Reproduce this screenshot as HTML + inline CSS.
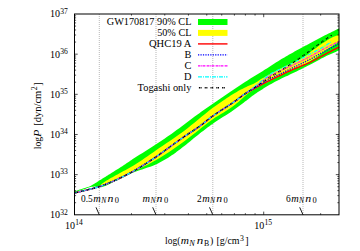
<!DOCTYPE html>
<html><head><meta charset="utf-8"><title>EOS</title>
<style>html,body{margin:0;padding:0;background:#fff;}body{width:360px;height:251px;overflow:hidden;position:relative;font-family:"Liberation Serif",serif;}</style>
</head><body>
<svg width="360" height="251" viewBox="0 0 360 251" style="position:absolute;left:0;top:0">
<rect width="360" height="251" fill="#fff"/>
<line x1="99.30" y1="14.00" x2="99.30" y2="214.80" stroke="#999" stroke-width="0.7" stroke-dasharray="1 1"/>
<line x1="156.00" y1="14.00" x2="156.00" y2="214.80" stroke="#999" stroke-width="0.7" stroke-dasharray="1 1"/>
<line x1="212.80" y1="14.00" x2="212.80" y2="214.80" stroke="#999" stroke-width="0.7" stroke-dasharray="1 1"/>
<line x1="303.00" y1="14.00" x2="303.00" y2="214.80" stroke="#999" stroke-width="0.7" stroke-dasharray="1 1"/>
<path d="M74.50 191.30 L75.81 190.88 L77.12 190.45 L78.44 190.03 L79.75 189.61 L81.06 189.19 L82.38 188.76 L83.69 188.33 L85.00 187.90 L85.62 187.70 L86.25 187.50 L86.88 187.31 L87.50 187.11 L88.12 186.91 L88.75 186.69 L89.38 186.46 L90.00 186.20 L90.62 185.91 L91.25 185.59 L91.88 185.23 L92.50 184.86 L93.12 184.47 L93.75 184.08 L94.38 183.68 L95.00 183.30 L95.50 183.00 L96.00 182.69 L96.50 182.38 L97.00 182.06 L97.50 181.75 L98.00 181.43 L98.50 181.11 L99.00 180.80 L99.88 180.25 L100.75 179.70 L101.62 179.15 L102.50 178.60 L103.38 178.05 L104.25 177.50 L105.12 176.95 L106.00 176.40 L106.50 176.09 L107.00 175.77 L107.50 175.46 L108.00 175.15 L108.50 174.84 L109.00 174.53 L109.50 174.21 L110.00 173.90 L111.75 172.80 L113.50 171.70 L115.25 170.60 L117.00 169.49 L118.75 168.38 L120.50 167.26 L122.25 166.14 L124.00 165.00 L125.25 164.18 L126.50 163.34 L127.75 162.50 L129.00 161.65 L130.25 160.80 L131.50 159.96 L132.75 159.12 L134.00 158.30 L136.71 156.55 L139.43 154.84 L142.14 153.15 L144.85 151.47 L147.56 149.79 L150.27 148.09 L152.99 146.36 L155.70 144.60 L157.99 143.08 L160.27 141.55 L162.56 140.00 L164.85 138.43 L167.14 136.85 L169.43 135.25 L171.71 133.63 L174.00 132.00 L176.62 130.09 L179.25 128.15 L181.88 126.17 L184.50 124.18 L187.12 122.18 L189.75 120.19 L192.38 118.23 L195.00 116.30 L197.19 114.72 L199.38 113.14 L201.56 111.58 L203.75 110.03 L205.94 108.48 L208.12 106.95 L210.31 105.42 L212.50 103.90 L214.69 102.39 L216.88 100.88 L219.06 99.39 L221.25 97.90 L223.44 96.42 L225.62 94.95 L227.81 93.47 L230.00 92.00 L231.88 90.74 L233.75 89.47 L235.62 88.21 L237.50 86.94 L239.38 85.69 L241.25 84.45 L243.12 83.22 L245.00 82.00 L247.50 80.41 L250.00 78.84 L252.50 77.30 L255.00 75.77 L257.50 74.24 L260.00 72.71 L262.50 71.16 L265.00 69.60 L266.88 68.41 L268.75 67.20 L270.62 65.98 L272.50 64.76 L274.38 63.54 L276.25 62.34 L278.12 61.16 L280.00 60.00 L281.46 59.12 L282.93 58.25 L284.39 57.39 L285.85 56.54 L287.31 55.69 L288.77 54.86 L290.24 54.03 L291.70 53.20 L293.11 52.41 L294.52 51.62 L295.94 50.84 L297.35 50.06 L298.76 49.29 L300.18 48.52 L301.59 47.76 L303.00 47.00 L303.88 46.53 L304.75 46.07 L305.62 45.60 L306.50 45.14 L307.38 44.68 L308.25 44.22 L309.12 43.76 L310.00 43.30 L311.88 42.30 L313.75 41.29 L315.62 40.28 L317.50 39.27 L319.38 38.26 L321.25 37.26 L323.12 36.27 L325.00 35.30 L326.77 34.40 L328.55 33.51 L330.32 32.64 L332.10 31.77 L333.88 30.90 L335.65 30.04 L337.43 29.17 L339.20 28.30 L339.20 50.30 L337.43 51.09 L335.65 51.88 L333.88 52.65 L332.10 53.43 L330.32 54.22 L328.55 55.03 L326.77 55.85 L325.00 56.70 L323.12 57.64 L321.25 58.62 L319.38 59.63 L317.50 60.65 L315.62 61.68 L313.75 62.71 L311.88 63.72 L310.00 64.70 L307.75 65.85 L305.50 66.98 L303.25 68.10 L301.00 69.21 L298.75 70.31 L296.50 71.41 L294.25 72.50 L292.00 73.60 L289.88 74.62 L287.75 75.63 L285.62 76.62 L283.50 77.61 L281.38 78.61 L279.25 79.64 L277.12 80.70 L275.00 81.80 L273.75 82.47 L272.50 83.17 L271.25 83.88 L270.00 84.60 L268.75 85.34 L267.50 86.09 L266.25 86.84 L265.00 87.60 L263.75 88.36 L262.50 89.13 L261.25 89.91 L260.00 90.69 L258.75 91.49 L257.50 92.31 L256.25 93.14 L255.00 94.00 L253.75 94.89 L252.50 95.81 L251.25 96.76 L250.00 97.73 L248.75 98.70 L247.50 99.68 L246.25 100.65 L245.00 101.60 L243.62 102.64 L242.25 103.68 L240.88 104.73 L239.50 105.77 L238.12 106.80 L236.75 107.82 L235.38 108.82 L234.00 109.80 L231.31 111.64 L228.62 113.42 L225.94 115.14 L223.25 116.84 L220.56 118.55 L217.88 120.27 L215.19 122.05 L212.50 123.90 L210.94 125.01 L209.38 126.15 L207.81 127.31 L206.25 128.49 L204.69 129.68 L203.12 130.88 L201.56 132.09 L200.00 133.30 L198.00 134.88 L196.00 136.49 L194.00 138.12 L192.00 139.77 L190.00 141.41 L188.00 143.04 L186.00 144.64 L184.00 146.20 L182.25 147.55 L180.50 148.91 L178.75 150.25 L177.00 151.58 L175.25 152.88 L173.50 154.14 L171.75 155.35 L170.00 156.50 L168.21 157.63 L166.43 158.73 L164.64 159.80 L162.85 160.84 L161.06 161.84 L159.27 162.78 L157.49 163.67 L155.70 164.50 L152.99 165.64 L150.27 166.66 L147.56 167.60 L144.85 168.49 L142.14 169.38 L139.43 170.28 L136.71 171.25 L134.00 172.30 L131.62 173.32 L129.25 174.43 L126.88 175.59 L124.50 176.78 L122.12 177.98 L119.75 179.14 L117.38 180.26 L115.00 181.30 L113.00 182.20 L111.00 183.18 L109.00 184.18 L107.00 185.13 L105.00 185.99 L103.00 186.68 L101.00 187.13 L99.00 187.30 L98.50 187.27 L98.00 187.19 L97.50 187.08 L97.00 186.95 L96.50 186.82 L96.00 186.71 L95.50 186.63 L95.00 186.60 L94.50 186.61 L94.00 186.62 L93.50 186.65 L93.00 186.69 L92.50 186.74 L92.00 186.79 L91.50 186.84 L91.00 186.90 L90.25 187.03 L89.50 187.22 L88.75 187.46 L88.00 187.74 L87.25 188.04 L86.50 188.34 L85.75 188.63 L85.00 188.90 L83.69 189.33 L82.38 189.76 L81.06 190.18 L79.75 190.61 L78.44 191.03 L77.12 191.45 L75.81 191.88 L74.50 192.30 Z" fill="#00ff00"/>
<path d="M98.70 186.50 L99.36 185.97 L100.03 185.43 L100.69 184.88 L101.35 184.34 L102.01 183.80 L102.67 183.28 L103.34 182.78 L104.00 182.30 L104.75 181.79 L105.50 181.30 L106.25 180.83 L107.00 180.37 L107.75 179.92 L108.50 179.48 L109.25 179.04 L110.00 178.60 L111.25 177.87 L112.50 177.16 L113.75 176.45 L115.00 175.76 L116.25 175.07 L117.50 174.38 L118.75 173.69 L120.00 173.00 L121.75 172.04 L123.50 171.10 L125.25 170.17 L127.00 169.24 L128.75 168.29 L130.50 167.33 L132.25 166.33 L134.00 165.30 L136.71 163.61 L139.43 161.84 L142.14 160.01 L144.85 158.12 L147.56 156.21 L150.27 154.29 L152.99 152.38 L155.70 150.50 L159.24 148.08 L162.77 145.69 L166.31 143.30 L169.85 140.90 L173.39 138.47 L176.93 136.01 L180.46 133.49 L184.00 130.90 L187.56 128.18 L191.12 125.35 L194.69 122.45 L198.25 119.50 L201.81 116.55 L205.38 113.65 L208.94 110.82 L212.50 108.10 L213.94 107.04 L215.38 106.00 L216.81 104.97 L218.25 103.95 L219.69 102.95 L221.12 101.96 L222.56 100.97 L224.00 100.00 L225.25 99.16 L226.50 98.31 L227.75 97.48 L229.00 96.65 L230.25 95.83 L231.50 95.03 L232.75 94.26 L234.00 93.50 L235.38 92.69 L236.75 91.90 L238.12 91.12 L239.50 90.36 L240.88 89.62 L242.25 88.89 L243.62 88.19 L245.00 87.50 L246.25 86.91 L247.50 86.36 L248.75 85.83 L250.00 85.30 L251.25 84.77 L252.50 84.22 L253.75 83.64 L255.00 83.00 L255.88 82.50 L256.75 81.96 L257.62 81.38 L258.50 80.79 L259.38 80.19 L260.25 79.60 L261.12 79.03 L262.00 78.50 L263.00 77.94 L264.00 77.40 L265.00 76.87 L266.00 76.36 L267.00 75.86 L268.00 75.35 L269.00 74.83 L270.00 74.30 L271.25 73.61 L272.50 72.91 L273.75 72.19 L275.00 71.47 L276.25 70.75 L277.50 70.05 L278.75 69.36 L280.00 68.70 L281.50 67.94 L283.00 67.21 L284.50 66.50 L286.00 65.81 L287.50 65.12 L289.00 64.42 L290.50 63.72 L292.00 63.00 L293.38 62.34 L294.75 61.69 L296.12 61.03 L297.50 60.38 L298.88 59.70 L300.25 59.00 L301.62 58.27 L303.00 57.50 L303.62 57.13 L304.25 56.76 L304.88 56.37 L305.50 55.97 L306.12 55.55 L306.75 55.12 L307.38 54.67 L308.00 54.20 L308.38 53.90 L308.75 53.56 L309.12 53.22 L309.50 52.86 L309.88 52.50 L310.25 52.15 L310.62 51.81 L311.00 51.50 L311.62 51.02 L312.25 50.56 L312.88 50.13 L313.50 49.71 L314.12 49.29 L314.75 48.87 L315.38 48.44 L316.00 48.00 L316.50 47.63 L317.00 47.25 L317.50 46.87 L318.00 46.48 L318.50 46.10 L319.00 45.72 L319.50 45.35 L320.00 45.00 L320.62 44.57 L321.25 44.16 L321.88 43.76 L322.50 43.37 L323.12 42.97 L323.75 42.59 L324.38 42.19 L325.00 41.80 L325.75 41.31 L326.50 40.81 L327.25 40.31 L328.00 39.80 L328.75 39.31 L329.50 38.84 L330.25 38.40 L331.00 38.00 L332.02 37.50 L333.05 37.04 L334.07 36.61 L335.10 36.21 L336.12 35.81 L337.15 35.41 L338.18 35.01 L339.20 34.60 L339.20 41.80 L337.43 42.90 L335.65 43.98 L333.88 45.06 L332.10 46.14 L330.32 47.23 L328.55 48.35 L326.77 49.50 L325.00 50.70 L323.88 51.50 L322.75 52.35 L321.62 53.23 L320.50 54.13 L319.38 55.02 L318.25 55.89 L317.12 56.72 L316.00 57.50 L314.62 58.40 L313.25 59.27 L311.88 60.12 L310.50 60.94 L309.12 61.73 L307.75 62.51 L306.38 63.26 L305.00 64.00 L303.38 64.84 L301.75 65.65 L300.12 66.43 L298.50 67.19 L296.88 67.94 L295.25 68.69 L293.62 69.44 L292.00 70.20 L290.50 70.90 L289.00 71.60 L287.50 72.29 L286.00 72.98 L284.50 73.68 L283.00 74.37 L281.50 75.08 L280.00 75.80 L278.75 76.41 L277.50 77.02 L276.25 77.64 L275.00 78.26 L273.75 78.89 L272.50 79.52 L271.25 80.16 L270.00 80.80 L268.12 81.76 L266.25 82.72 L264.38 83.68 L262.50 84.66 L260.62 85.65 L258.75 86.67 L256.88 87.71 L255.00 88.80 L254.38 89.17 L253.75 89.55 L253.12 89.93 L252.50 90.32 L251.88 90.73 L251.25 91.14 L250.62 91.56 L250.00 92.00 L249.38 92.46 L248.75 92.93 L248.12 93.42 L247.50 93.93 L246.88 94.44 L246.25 94.96 L245.62 95.48 L245.00 96.00 L243.62 97.17 L242.25 98.40 L240.88 99.65 L239.50 100.91 L238.12 102.15 L236.75 103.36 L235.38 104.52 L234.00 105.60 L231.31 107.53 L228.62 109.33 L225.94 111.01 L223.25 112.64 L220.56 114.25 L217.88 115.89 L215.19 117.59 L212.50 119.40 L208.94 121.98 L205.38 124.70 L201.81 127.52 L198.25 130.39 L194.69 133.27 L191.12 136.11 L187.56 138.87 L184.00 141.50 L180.46 144.02 L176.93 146.53 L173.39 148.99 L169.85 151.41 L166.31 153.76 L162.77 156.04 L159.24 158.22 L155.70 160.30 L152.99 161.81 L150.27 163.25 L147.56 164.64 L144.85 165.99 L142.14 167.31 L139.43 168.63 L136.71 169.95 L134.00 171.30 L131.62 172.51 L129.25 173.75 L126.88 174.99 L124.50 176.22 L122.12 177.44 L119.75 178.61 L117.38 179.74 L115.00 180.80 L112.96 181.65 L110.92 182.47 L108.89 183.24 L106.85 184.00 L104.81 184.75 L102.78 185.49 L100.74 186.24 L98.70 187.00 Z" fill="#ffff00"/>
<path d="M74.50 193.00 L77.56 192.23 L80.62 191.49 L83.69 190.76 L86.75 190.03 L89.81 189.27 L92.88 188.48 L95.94 187.62 L99.00 186.70 L101.00 186.04 L103.00 185.34 L105.00 184.59 L107.00 183.80 L109.00 182.98 L111.00 182.14 L113.00 181.28 L115.00 180.40 L117.38 179.33 L119.75 178.22 L122.12 177.07 L124.50 175.88 L126.88 174.66 L129.25 173.40 L131.62 172.12 L134.00 170.80 L136.71 169.25 L139.43 167.64 L142.14 165.97 L144.85 164.26 L147.56 162.52 L150.27 160.73 L152.99 158.93 L155.70 157.10 L157.49 155.87 L159.27 154.61 L161.06 153.33 L162.85 152.02 L164.64 150.71 L166.43 149.40 L168.21 148.09 L170.00 146.80 L171.75 145.54 L173.50 144.28 L175.25 143.02 L177.00 141.76 L178.75 140.51 L180.50 139.26 L182.25 138.02 L184.00 136.80 L186.00 135.43 L188.00 134.10 L190.00 132.78 L192.00 131.47 L194.00 130.15 L196.00 128.80 L198.00 127.43 L200.00 126.00 L201.56 124.83 L203.12 123.61 L204.69 122.36 L206.25 121.10 L207.81 119.83 L209.38 118.58 L210.94 117.36 L212.50 116.20 L215.19 114.30 L217.88 112.48 L220.56 110.72 L223.25 108.99 L225.94 107.27 L228.62 105.53 L231.31 103.75 L234.00 101.90 L235.38 100.91 L236.75 99.87 L238.12 98.82 L239.50 97.76 L240.88 96.71 L242.25 95.69 L243.62 94.71 L245.00 93.80 L246.25 93.03 L247.50 92.29 L248.75 91.58 L250.00 90.89 L251.25 90.21 L252.50 89.54 L253.75 88.87 L255.00 88.20 L256.88 87.18 L258.75 86.17 L260.62 85.17 L262.50 84.17 L264.38 83.18 L266.25 82.21 L268.12 81.25 L270.00 80.30 L271.25 79.68 L272.50 79.07 L273.75 78.46 L275.00 77.87 L276.25 77.27 L277.50 76.68 L278.75 76.09 L280.00 75.50 L281.50 74.79 L283.00 74.08 L284.50 73.37 L286.00 72.66 L287.50 71.95 L289.00 71.26 L290.50 70.57 L292.00 69.90 L294.25 68.92 L296.50 67.99 L298.75 67.07 L301.00 66.16 L303.25 65.25 L305.50 64.31 L307.75 63.33 L310.00 62.30 L311.88 61.38 L313.75 60.42 L315.62 59.42 L317.50 58.39 L319.38 57.36 L321.25 56.32 L323.12 55.30 L325.00 54.30 L326.77 53.37 L328.55 52.46 L330.32 51.54 L332.10 50.63 L333.88 49.73 L335.65 48.82 L337.43 47.91 L339.20 47.00" fill="none" stroke="#ff0000" stroke-width="1.4"/>
<path d="M74.50 193.00 L77.56 192.23 L80.62 191.49 L83.69 190.76 L86.75 190.03 L89.81 189.27 L92.88 188.48 L95.94 187.62 L99.00 186.70 L101.00 186.04 L103.00 185.34 L105.00 184.59 L107.00 183.80 L109.00 182.98 L111.00 182.14 L113.00 181.28 L115.00 180.40 L117.38 179.33 L119.75 178.22 L122.12 177.07 L124.50 175.88 L126.88 174.66 L129.25 173.40 L131.62 172.12 L134.00 170.80 L136.71 169.25 L139.43 167.64 L142.14 165.97 L144.85 164.26 L147.56 162.52 L150.27 160.73 L152.99 158.93 L155.70 157.10 L157.49 155.87 L159.27 154.61 L161.06 153.33 L162.85 152.02 L164.64 150.71 L166.43 149.40 L168.21 148.09 L170.00 146.80 L171.75 145.54 L173.50 144.28 L175.25 143.02 L177.00 141.76 L178.75 140.51 L180.50 139.26 L182.25 138.02 L184.00 136.80 L186.00 135.43 L188.00 134.10 L190.00 132.78 L192.00 131.47 L194.00 130.15 L196.00 128.80 L198.00 127.43 L200.00 126.00 L201.56 124.83 L203.12 123.61 L204.69 122.36 L206.25 121.10 L207.81 119.83 L209.38 118.58 L210.94 117.36 L212.50 116.20 L215.19 114.30 L217.88 112.48 L220.56 110.72 L223.25 108.99 L225.94 107.27 L228.62 105.53 L231.31 103.75 L234.00 101.90 L235.38 100.91 L236.75 99.89 L238.12 98.85 L239.50 97.81 L240.88 96.77 L242.25 95.74 L243.62 94.75 L245.00 93.80 L246.25 92.97 L247.50 92.17 L248.75 91.38 L250.00 90.61 L251.25 89.86 L252.50 89.10 L253.75 88.35 L255.00 87.60 L256.88 86.46 L258.75 85.32 L260.62 84.18 L262.50 83.05 L264.38 81.94 L266.25 80.86 L268.12 79.81 L270.00 78.80 L271.25 78.16 L272.50 77.54 L273.75 76.94 L275.00 76.35 L276.25 75.76 L277.50 75.18 L278.75 74.60 L280.00 74.00 L281.50 73.28 L283.00 72.56 L284.50 71.83 L286.00 71.11 L287.50 70.39 L289.00 69.66 L290.50 68.93 L292.00 68.20 L294.25 67.10 L296.50 66.01 L298.75 64.92 L301.00 63.83 L303.25 62.72 L305.50 61.60 L307.75 60.46 L310.00 59.30 L311.88 58.30 L313.75 57.28 L315.62 56.24 L317.50 55.18 L319.38 54.12 L321.25 53.07 L323.12 52.03 L325.00 51.00 L326.77 50.05 L328.55 49.10 L330.32 48.16 L332.10 47.23 L333.88 46.30 L335.65 45.37 L337.43 44.44 L339.20 43.50" fill="none" stroke="#0000ff" stroke-width="1.4" stroke-dasharray="1.25 1.2"/>
<path d="M74.50 193.00 L77.56 192.23 L80.62 191.49 L83.69 190.76 L86.75 190.03 L89.81 189.27 L92.88 188.48 L95.94 187.62 L99.00 186.70 L101.00 186.04 L103.00 185.34 L105.00 184.59 L107.00 183.80 L109.00 182.98 L111.00 182.14 L113.00 181.28 L115.00 180.40 L117.38 179.33 L119.75 178.22 L122.12 177.07 L124.50 175.88 L126.88 174.66 L129.25 173.40 L131.62 172.12 L134.00 170.80 L136.71 169.25 L139.43 167.64 L142.14 165.97 L144.85 164.26 L147.56 162.52 L150.27 160.73 L152.99 158.93 L155.70 157.10 L157.49 155.87 L159.27 154.61 L161.06 153.33 L162.85 152.02 L164.64 150.71 L166.43 149.40 L168.21 148.09 L170.00 146.80 L171.75 145.54 L173.50 144.28 L175.25 143.02 L177.00 141.76 L178.75 140.51 L180.50 139.26 L182.25 138.02 L184.00 136.80 L186.00 135.43 L188.00 134.10 L190.00 132.78 L192.00 131.47 L194.00 130.15 L196.00 128.80 L198.00 127.43 L200.00 126.00 L201.56 124.83 L203.12 123.61 L204.69 122.36 L206.25 121.10 L207.81 119.83 L209.38 118.58 L210.94 117.36 L212.50 116.20 L215.19 114.30 L217.88 112.48 L220.56 110.72 L223.25 108.99 L225.94 107.27 L228.62 105.53 L231.31 103.75 L234.00 101.90 L235.38 100.92 L236.75 99.92 L238.12 98.90 L239.50 97.87 L240.88 96.84 L242.25 95.81 L243.62 94.80 L245.00 93.80 L246.25 92.91 L247.50 92.03 L248.75 91.16 L250.00 90.30 L251.25 89.43 L252.50 88.56 L253.75 87.69 L255.00 86.80 L256.88 85.42 L258.75 83.98 L260.62 82.50 L262.50 81.03 L264.38 79.60 L266.25 78.22 L268.12 76.95 L270.00 75.80 L271.25 75.11 L272.50 74.47 L273.75 73.86 L275.00 73.27 L276.25 72.70 L277.50 72.14 L278.75 71.58 L280.00 71.00 L281.50 70.30 L283.00 69.62 L284.50 68.94 L286.00 68.26 L287.50 67.58 L289.00 66.90 L290.50 66.21 L292.00 65.50 L294.25 64.42 L296.50 63.33 L298.75 62.22 L301.00 61.10 L303.25 59.97 L305.50 58.83 L307.75 57.67 L310.00 56.50 L311.88 55.50 L313.75 54.48 L315.62 53.44 L317.50 52.39 L319.38 51.34 L321.25 50.31 L323.12 49.29 L325.00 48.30 L326.77 47.39 L328.55 46.50 L330.32 45.62 L332.10 44.76 L333.88 43.89 L335.65 43.03 L337.43 42.17 L339.20 41.30" fill="none" stroke="#ff00ff" stroke-width="1.1" stroke-dasharray="2.5 0.6 0.8 0.6"/>
<path d="M74.50 193.00 L77.56 192.23 L80.62 191.49 L83.69 190.76 L86.75 190.03 L89.81 189.27 L92.88 188.48 L95.94 187.62 L99.00 186.70 L101.00 186.04 L103.00 185.34 L105.00 184.59 L107.00 183.80 L109.00 182.98 L111.00 182.14 L113.00 181.28 L115.00 180.40 L117.38 179.33 L119.75 178.22 L122.12 177.07 L124.50 175.88 L126.88 174.66 L129.25 173.40 L131.62 172.12 L134.00 170.80 L136.71 169.25 L139.43 167.64 L142.14 165.97 L144.85 164.26 L147.56 162.52 L150.27 160.73 L152.99 158.93 L155.70 157.10 L157.49 155.87 L159.27 154.61 L161.06 153.33 L162.85 152.02 L164.64 150.71 L166.43 149.40 L168.21 148.09 L170.00 146.80 L171.75 145.54 L173.50 144.28 L175.25 143.02 L177.00 141.76 L178.75 140.51 L180.50 139.26 L182.25 138.02 L184.00 136.80 L186.00 135.43 L188.00 134.10 L190.00 132.78 L192.00 131.47 L194.00 130.15 L196.00 128.80 L198.00 127.43 L200.00 126.00 L201.56 124.83 L203.12 123.61 L204.69 122.36 L206.25 121.10 L207.81 119.83 L209.38 118.58 L210.94 117.36 L212.50 116.20 L215.19 114.30 L217.88 112.48 L220.56 110.72 L223.25 108.99 L225.94 107.27 L228.62 105.53 L231.31 103.75 L234.00 101.90 L235.38 100.92 L236.75 99.93 L238.12 98.92 L239.50 97.91 L240.88 96.88 L242.25 95.85 L243.62 94.82 L245.00 93.80 L246.25 92.87 L247.50 91.95 L248.75 91.02 L250.00 90.09 L251.25 89.15 L252.50 88.21 L253.75 87.26 L255.00 86.30 L256.88 84.80 L258.75 83.23 L260.62 81.61 L262.50 80.00 L264.38 78.43 L266.25 76.93 L268.12 75.54 L270.00 74.30 L271.25 73.56 L272.50 72.87 L273.75 72.22 L275.00 71.60 L276.25 71.00 L277.50 70.40 L278.75 69.81 L280.00 69.20 L281.50 68.47 L283.00 67.76 L284.50 67.06 L286.00 66.36 L287.50 65.66 L289.00 64.95 L290.50 64.24 L292.00 63.50 L294.25 62.36 L296.50 61.20 L298.75 60.02 L301.00 58.82 L303.25 57.62 L305.50 56.41 L307.75 55.20 L310.00 54.00 L311.88 53.02 L313.75 52.05 L315.62 51.10 L317.50 50.13 L319.38 49.15 L321.25 48.15 L323.12 47.10 L325.00 46.00 L325.75 45.54 L326.50 45.05 L327.25 44.56 L328.00 44.05 L328.75 43.53 L329.50 43.02 L330.25 42.51 L331.00 42.00" fill="none" stroke="#00ffff" stroke-width="1.2" stroke-dasharray="4 1 1 1"/>
<path d="M74.50 193.00 L77.56 192.23 L80.62 191.49 L83.69 190.76 L86.75 190.03 L89.81 189.27 L92.88 188.48 L95.94 187.62 L99.00 186.70 L101.00 186.04 L103.00 185.34 L105.00 184.59 L107.00 183.80 L109.00 182.98 L111.00 182.14 L113.00 181.28 L115.00 180.40 L117.38 179.33 L119.75 178.22 L122.12 177.07 L124.50 175.88 L126.88 174.66 L129.25 173.40 L131.62 172.12 L134.00 170.80 L136.71 169.25 L139.43 167.64 L142.14 165.97 L144.85 164.26 L147.56 162.52 L150.27 160.73 L152.99 158.93 L155.70 157.10 L157.49 155.87 L159.27 154.61 L161.06 153.33 L162.85 152.02 L164.64 150.71 L166.43 149.40 L168.21 148.09 L170.00 146.80 L171.75 145.54 L173.50 144.28 L175.25 143.02 L177.00 141.76 L178.75 140.51 L180.50 139.26 L182.25 138.02 L184.00 136.80 L186.00 135.43 L188.00 134.10 L190.00 132.78 L192.00 131.47 L194.00 130.15 L196.00 128.80 L198.00 127.43 L200.00 126.00 L201.56 124.83 L203.12 123.61 L204.69 122.36 L206.25 121.10 L207.81 119.83 L209.38 118.58 L210.94 117.36 L212.50 116.20 L215.19 114.30 L217.88 112.48 L220.56 110.72 L223.25 108.99 L225.94 107.27 L228.62 105.53 L231.31 103.75 L234.00 101.90 L235.38 100.92 L236.75 99.90 L238.12 98.87 L239.50 97.83 L240.88 96.79 L242.25 95.77 L243.62 94.77 L245.00 93.80 L246.25 92.95 L247.50 92.12 L248.75 91.31 L250.00 90.51 L251.25 89.72 L252.50 88.92 L253.75 88.12 L255.00 87.30 L256.88 86.05 L258.75 84.77 L260.62 83.49 L262.50 82.20 L264.38 80.91 L266.25 79.65 L268.12 78.41 L270.00 77.20 L271.25 76.42 L272.50 75.67 L273.75 74.92 L275.00 74.19 L276.25 73.46 L277.50 72.72 L278.75 71.97 L280.00 71.20 L281.50 70.26 L283.00 69.31 L284.50 68.35 L286.00 67.37 L287.50 66.39 L289.00 65.40 L290.50 64.41 L292.00 63.40 L294.25 61.88 L296.50 60.34 L298.75 58.79 L301.00 57.23 L303.25 55.64 L305.50 54.04 L307.75 52.43 L310.00 50.80 L310.75 50.25 L311.50 49.69 L312.25 49.13 L313.00 48.57 L313.75 48.00 L314.50 47.43 L315.25 46.86 L316.00 46.30 L316.50 45.92 L317.00 45.55 L317.50 45.17 L318.00 44.79 L318.50 44.41 L319.00 44.04 L319.50 43.67 L320.00 43.30 L321.50 42.22 L323.00 41.17 L324.50 40.13 L326.00 39.10 L327.50 38.08 L329.00 37.06 L330.50 36.03 L332.00 35.00" fill="none" stroke="#000" stroke-width="1.4" stroke-dasharray="1.1 0.5 1.1 3.1" stroke-dashoffset="4.9"/>
<path d="M74.50 202.71 h1.6 M339.00 202.71 h-1.6 M74.50 195.64 h1.6 M339.00 195.64 h-1.6 M74.50 190.62 h1.6 M339.00 190.62 h-1.6 M74.50 186.73 h1.6 M339.00 186.73 h-1.6 M74.50 183.55 h1.6 M339.00 183.55 h-1.6 M74.50 180.86 h1.6 M339.00 180.86 h-1.6 M74.50 178.53 h1.6 M339.00 178.53 h-1.6 M74.50 176.48 h1.6 M339.00 176.48 h-1.6 M74.50 174.64 h3.2 M339.00 174.64 h-3.2 M74.50 162.55 h1.6 M339.00 162.55 h-1.6 M74.50 155.48 h1.6 M339.00 155.48 h-1.6 M74.50 150.46 h1.6 M339.00 150.46 h-1.6 M74.50 146.57 h1.6 M339.00 146.57 h-1.6 M74.50 143.39 h1.6 M339.00 143.39 h-1.6 M74.50 140.70 h1.6 M339.00 140.70 h-1.6 M74.50 138.37 h1.6 M339.00 138.37 h-1.6 M74.50 136.32 h1.6 M339.00 136.32 h-1.6 M74.50 134.48 h3.2 M339.00 134.48 h-3.2 M74.50 122.39 h1.6 M339.00 122.39 h-1.6 M74.50 115.32 h1.6 M339.00 115.32 h-1.6 M74.50 110.30 h1.6 M339.00 110.30 h-1.6 M74.50 106.41 h1.6 M339.00 106.41 h-1.6 M74.50 103.23 h1.6 M339.00 103.23 h-1.6 M74.50 100.54 h1.6 M339.00 100.54 h-1.6 M74.50 98.21 h1.6 M339.00 98.21 h-1.6 M74.50 96.16 h1.6 M339.00 96.16 h-1.6 M74.50 94.32 h3.2 M339.00 94.32 h-3.2 M74.50 82.23 h1.6 M339.00 82.23 h-1.6 M74.50 75.16 h1.6 M339.00 75.16 h-1.6 M74.50 70.14 h1.6 M339.00 70.14 h-1.6 M74.50 66.25 h1.6 M339.00 66.25 h-1.6 M74.50 63.07 h1.6 M339.00 63.07 h-1.6 M74.50 60.38 h1.6 M339.00 60.38 h-1.6 M74.50 58.05 h1.6 M339.00 58.05 h-1.6 M74.50 56.00 h1.6 M339.00 56.00 h-1.6 M74.50 54.16 h3.2 M339.00 54.16 h-3.2 M74.50 42.07 h1.6 M339.00 42.07 h-1.6 M74.50 35.00 h1.6 M339.00 35.00 h-1.6 M74.50 29.98 h1.6 M339.00 29.98 h-1.6 M74.50 26.09 h1.6 M339.00 26.09 h-1.6 M74.50 22.91 h1.6 M339.00 22.91 h-1.6 M74.50 20.22 h1.6 M339.00 20.22 h-1.6 M74.50 17.89 h1.6 M339.00 17.89 h-1.6 M74.50 15.84 h1.6 M339.00 15.84 h-1.6 M131.46 214.80 v-1.6 M131.46 14.00 v1.6 M164.77 214.80 v-1.6 M164.77 14.00 v1.6 M188.41 214.80 v-1.6 M188.41 14.00 v1.6 M206.75 214.80 v-1.6 M206.75 14.00 v1.6 M221.73 214.80 v-1.6 M221.73 14.00 v1.6 M234.40 214.80 v-1.6 M234.40 14.00 v1.6 M245.37 214.80 v-1.6 M245.37 14.00 v1.6 M255.05 214.80 v-1.6 M255.05 14.00 v1.6 M263.71 214.80 v-3.2 M263.71 14.00 v3.2 M320.66 214.80 v-1.6 M320.66 14.00 v1.6" stroke="#000" stroke-width="0.7" fill="none"/>
<rect x="74.50" y="14.00" width="264.50" height="200.80" fill="none" stroke="#000" stroke-width="1"/>
<line x1="96.00" y1="207.3" x2="99.30" y2="214.80" stroke="#000" stroke-width="0.9"/>
<line x1="152.70" y1="207.3" x2="156.00" y2="214.80" stroke="#000" stroke-width="0.9"/>
<line x1="209.50" y1="207.3" x2="212.80" y2="214.80" stroke="#000" stroke-width="0.9"/>
<line x1="299.70" y1="207.3" x2="303.00" y2="214.80" stroke="#000" stroke-width="0.9"/>
<rect x="198.0" y="19.0" width="29.5" height="6" fill="#00ff00"/>
<rect x="198.0" y="29.9" width="29.5" height="6" fill="#ffff00"/>
<path d="M198.0 43.90 H227.5" stroke="#ff0000" stroke-width="1.4"/>
<path d="M198.0 54.90 H227.5" stroke="#0000ff" stroke-width="1.4" stroke-dasharray="1.25 1.2"/>
<path d="M198.0 65.90 H227.5" stroke="#ff00ff" stroke-width="1.1" stroke-dasharray="2.5 0.6 0.8 0.6"/>
<path d="M198.0 76.90 H227.5" stroke="#00ffff" stroke-width="1.2" stroke-dasharray="4 1 1 1"/>
<path d="M198.0 87.70 H227.5" stroke="#000" stroke-width="1.4" stroke-dasharray="1.1 0.5 1.1 3.1" stroke-dashoffset="4.9"/>
<text x="191.4" y="25.40" font-family="Liberation Serif, serif" font-size="10.3" textLength="84.60" lengthAdjust="spacingAndGlyphs" text-anchor="end" fill="#000">GW170817 90% CL</text>
<text x="191.4" y="36.30" font-family="Liberation Serif, serif" font-size="10.3" textLength="34.20" lengthAdjust="spacingAndGlyphs" text-anchor="end" fill="#000">50% CL</text>
<text x="191.4" y="47.30" font-family="Liberation Serif, serif" font-size="10.3" textLength="42.40" lengthAdjust="spacingAndGlyphs" text-anchor="end" fill="#000">QHC19 A</text>
<text x="191.4" y="58.30" font-family="Liberation Serif, serif" font-size="10.3" text-anchor="end" fill="#000">B</text>
<text x="191.4" y="69.30" font-family="Liberation Serif, serif" font-size="10.3" text-anchor="end" fill="#000">C</text>
<text x="191.4" y="80.30" font-family="Liberation Serif, serif" font-size="10.3" text-anchor="end" fill="#000">D</text>
<text x="191.4" y="91.10" font-family="Liberation Serif, serif" font-size="10.3" textLength="53.80" lengthAdjust="spacingAndGlyphs" text-anchor="end" fill="#000">Togashi only</text>
<text x="60.1" y="218.20" font-family="Liberation Serif, serif" font-size="10" text-anchor="end" fill="#000">10</text>
<text x="60.3" y="214.50" font-family="Liberation Serif, serif" font-size="7.6" text-anchor="start" fill="#000">32</text>
<text x="60.1" y="178.04" font-family="Liberation Serif, serif" font-size="10" text-anchor="end" fill="#000">10</text>
<text x="60.3" y="174.34" font-family="Liberation Serif, serif" font-size="7.6" text-anchor="start" fill="#000">33</text>
<text x="60.1" y="137.88" font-family="Liberation Serif, serif" font-size="10" text-anchor="end" fill="#000">10</text>
<text x="60.3" y="134.18" font-family="Liberation Serif, serif" font-size="7.6" text-anchor="start" fill="#000">34</text>
<text x="60.1" y="97.72" font-family="Liberation Serif, serif" font-size="10" text-anchor="end" fill="#000">10</text>
<text x="60.3" y="94.02" font-family="Liberation Serif, serif" font-size="7.6" text-anchor="start" fill="#000">35</text>
<text x="60.1" y="57.56" font-family="Liberation Serif, serif" font-size="10" text-anchor="end" fill="#000">10</text>
<text x="60.3" y="53.86" font-family="Liberation Serif, serif" font-size="7.6" text-anchor="start" fill="#000">36</text>
<text x="60.1" y="17.40" font-family="Liberation Serif, serif" font-size="10" text-anchor="end" fill="#000">10</text>
<text x="60.3" y="13.70" font-family="Liberation Serif, serif" font-size="7.6" text-anchor="start" fill="#000">37</text>
<text x="75.10" y="229.3" font-family="Liberation Serif, serif" font-size="10" text-anchor="end" fill="#000">10</text>
<text x="75.30" y="225.3" font-family="Liberation Serif, serif" font-size="7.6" text-anchor="start" fill="#000">14</text>
<text x="264.31" y="229.3" font-family="Liberation Serif, serif" font-size="10" text-anchor="end" fill="#000">10</text>
<text x="264.51" y="225.3" font-family="Liberation Serif, serif" font-size="7.6" text-anchor="start" fill="#000">15</text>
<text x="92.80" y="201.50" font-family="Liberation Serif, serif" font-size="9.40" text-anchor="end" fill="#000">0.5</text>
<text x="93.30" y="201.50" font-family="Liberation Serif, serif" font-size="9.60" font-style="italic" textLength="7.50" lengthAdjust="spacingAndGlyphs" text-anchor="start" fill="#000">m</text>
<text x="101.20" y="203.30" font-family="Liberation Serif, serif" font-size="7.30" font-style="italic" textLength="5.10" lengthAdjust="spacingAndGlyphs" text-anchor="start" fill="#000">N</text>
<text x="107.40" y="201.50" font-family="Liberation Serif, serif" font-size="9.60" font-style="italic" textLength="5.90" lengthAdjust="spacingAndGlyphs" text-anchor="start" fill="#000">n</text>
<text x="114.70" y="203.30" font-family="Liberation Serif, serif" font-size="7.30" textLength="4.20" lengthAdjust="spacingAndGlyphs" text-anchor="start" fill="#000">0</text>
<text x="142.50" y="201.50" font-family="Liberation Serif, serif" font-size="9.60" font-style="italic" textLength="7.50" lengthAdjust="spacingAndGlyphs" text-anchor="start" fill="#000">m</text>
<text x="150.40" y="203.30" font-family="Liberation Serif, serif" font-size="7.30" font-style="italic" textLength="5.10" lengthAdjust="spacingAndGlyphs" text-anchor="start" fill="#000">N</text>
<text x="156.60" y="201.50" font-family="Liberation Serif, serif" font-size="9.60" font-style="italic" textLength="5.90" lengthAdjust="spacingAndGlyphs" text-anchor="start" fill="#000">n</text>
<text x="163.90" y="203.30" font-family="Liberation Serif, serif" font-size="7.30" textLength="4.20" lengthAdjust="spacingAndGlyphs" text-anchor="start" fill="#000">0</text>
<text x="201.70" y="201.50" font-family="Liberation Serif, serif" font-size="9.40" text-anchor="end" fill="#000">2</text>
<text x="202.20" y="201.50" font-family="Liberation Serif, serif" font-size="9.60" font-style="italic" textLength="7.50" lengthAdjust="spacingAndGlyphs" text-anchor="start" fill="#000">m</text>
<text x="210.10" y="203.30" font-family="Liberation Serif, serif" font-size="7.30" font-style="italic" textLength="5.10" lengthAdjust="spacingAndGlyphs" text-anchor="start" fill="#000">N</text>
<text x="216.30" y="201.50" font-family="Liberation Serif, serif" font-size="9.60" font-style="italic" textLength="5.90" lengthAdjust="spacingAndGlyphs" text-anchor="start" fill="#000">n</text>
<text x="223.60" y="203.30" font-family="Liberation Serif, serif" font-size="7.30" textLength="4.20" lengthAdjust="spacingAndGlyphs" text-anchor="start" fill="#000">0</text>
<text x="290.70" y="201.50" font-family="Liberation Serif, serif" font-size="9.40" text-anchor="end" fill="#000">6</text>
<text x="291.20" y="201.50" font-family="Liberation Serif, serif" font-size="9.60" font-style="italic" textLength="7.50" lengthAdjust="spacingAndGlyphs" text-anchor="start" fill="#000">m</text>
<text x="299.10" y="203.30" font-family="Liberation Serif, serif" font-size="7.30" font-style="italic" textLength="5.10" lengthAdjust="spacingAndGlyphs" text-anchor="start" fill="#000">N</text>
<text x="305.30" y="201.50" font-family="Liberation Serif, serif" font-size="9.60" font-style="italic" textLength="5.90" lengthAdjust="spacingAndGlyphs" text-anchor="start" fill="#000">n</text>
<text x="312.60" y="203.30" font-family="Liberation Serif, serif" font-size="7.30" textLength="4.20" lengthAdjust="spacingAndGlyphs" text-anchor="start" fill="#000">0</text>
<text x="165.10" y="244.30" font-family="Liberation Serif, serif" font-size="10.00" textLength="15.30" lengthAdjust="spacingAndGlyphs" text-anchor="start" fill="#000">log(</text>
<text x="180.80" y="244.30" font-family="Liberation Serif, serif" font-size="10.00" font-style="italic" textLength="8.20" lengthAdjust="spacingAndGlyphs" text-anchor="start" fill="#000">m</text>
<text x="189.30" y="245.90" font-family="Liberation Serif, serif" font-size="7.20" font-style="italic" textLength="5.60" lengthAdjust="spacingAndGlyphs" text-anchor="start" fill="#000">N</text>
<text x="196.80" y="244.30" font-family="Liberation Serif, serif" font-size="10.00" font-style="italic" textLength="6.50" lengthAdjust="spacingAndGlyphs" text-anchor="start" fill="#000">n</text>
<text x="204.00" y="245.90" font-family="Liberation Serif, serif" font-size="7.20" textLength="5.20" lengthAdjust="spacingAndGlyphs" text-anchor="start" fill="#000">B</text>
<text x="210.00" y="244.30" font-family="Liberation Serif, serif" font-size="10.00" text-anchor="start" fill="#000">)</text>
<text x="216.40" y="244.30" font-family="Liberation Serif, serif" font-size="10.00" textLength="23.20" lengthAdjust="spacingAndGlyphs" text-anchor="start" fill="#000">[g/cm</text>
<text x="239.90" y="240.60" font-family="Liberation Serif, serif" font-size="7.20" textLength="3.90" lengthAdjust="spacingAndGlyphs" text-anchor="start" fill="#000">3</text>
<text x="245.20" y="244.30" font-family="Liberation Serif, serif" font-size="10.00" text-anchor="start" fill="#000">]</text>
<g transform="translate(40.8,149.3) rotate(-90)">
<text x="0.00" y="0.00" font-family="Liberation Serif, serif" font-size="10.00" textLength="12.40" lengthAdjust="spacingAndGlyphs" text-anchor="start" fill="#000">log</text>
<text x="12.40" y="0.00" font-family="Liberation Serif, serif" font-size="10.00" font-style="italic" textLength="7.40" lengthAdjust="spacingAndGlyphs" text-anchor="start" fill="#000">P</text>
<text x="23.60" y="0.00" font-family="Liberation Serif, serif" font-size="10.00" textLength="35.00" lengthAdjust="spacingAndGlyphs" text-anchor="start" fill="#000">[dyn/cm</text>
<text x="59.00" y="-3.70" font-family="Liberation Serif, serif" font-size="7.20" textLength="3.90" lengthAdjust="spacingAndGlyphs" text-anchor="start" fill="#000">2</text>
<text x="63.50" y="0.00" font-family="Liberation Serif, serif" font-size="10.00" text-anchor="start" fill="#000">]</text>
</g>
</svg>
</body></html>
